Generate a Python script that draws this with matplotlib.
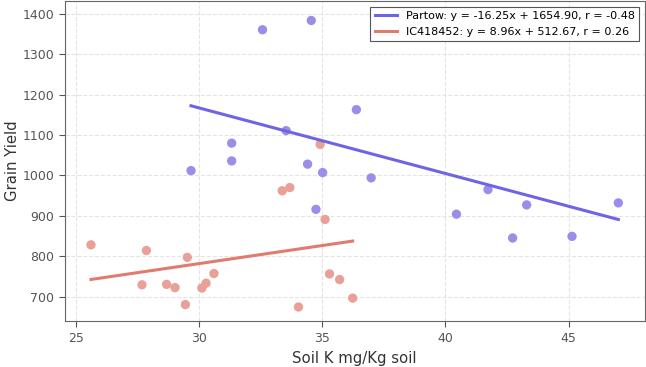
import matplotlib
matplotlib.use("Agg")
import matplotlib.pyplot as plt
import numpy as np

partow_k = [32.58, 34.56, 36.39, 33.54, 31.33, 31.33, 34.41, 35.02, 29.68, 34.75,
            36.99, 41.73, 40.45, 43.30, 42.73, 45.14, 47.02]
partow_y = [1361, 1384, 1163, 1111, 1080, 1036, 1028, 1007, 1012, 916,
            994, 965, 904, 927, 845, 849, 932]

ic_k = [34.92, 33.38, 33.69, 35.12, 25.62, 27.87, 29.53, 27.69, 28.69, 29.03,
        30.61, 30.29, 30.12, 29.45, 34.04, 35.30, 35.71, 36.24]
ic_y = [1077, 962, 970, 891, 828, 814, 797, 729, 730, 722,
        757, 733, 721, 680, 674, 756, 742, 696]

partow_fit = (-16.25, 1654.90, -0.48)
ic_fit = (8.96, 512.67, 0.26)

series = [
    ("Partow", partow_k, partow_y, partow_fit, "#6f63e6", "#9a8fe8"),
    ("IC418452", ic_k, ic_y, ic_fit, "#e07b70", "#e8a097"),
]

fig, ax = plt.subplots(figsize=(6.46, 3.67), dpi=100)

for name, xs, ys, (m, b, r), lc, pc in series:
    ax.scatter(xs, ys, color=pc, s=45, edgecolors="none", zorder=3)
    xs_arr = np.array([min(xs), max(xs)])
    ax.plot(xs_arr, m * xs_arr + b, color=lc, lw=2.2, zorder=4,
            label=f"{name}: y = {m:.2f}x + {b:.2f}, r = {r:.2f}")

ax.grid(True, linestyle="--", color="#e4e4e4", lw=0.8)
ax.set_axisbelow(True)
for s in ax.spines.values():
    s.set_color("#666666")
ax.tick_params(colors="#555555", labelsize=9, length=4)
ax.set_xlabel("Soil K mg/Kg soil", fontsize=10.7, color="#333333", labelpad=5)
ax.set_ylabel("Grain Yield", fontsize=10.7, color="#333333", labelpad=2)
ax.set_xticks([25, 30, 35, 40, 45])
ax.set_yticks([700, 800, 900, 1000, 1100, 1200, 1300, 1400])
ax.set_ylim(639, 1432)
leg = ax.legend(loc="upper right", fontsize=8.0, framealpha=1, edgecolor="#555555",
                fancybox=False, handlelength=2.0)
leg.get_frame().set_linewidth(0.8)

fig.subplots_adjust(left=0.1, right=0.998, top=0.997, bottom=0.125)
fig.savefig("out.png", dpi=100)
